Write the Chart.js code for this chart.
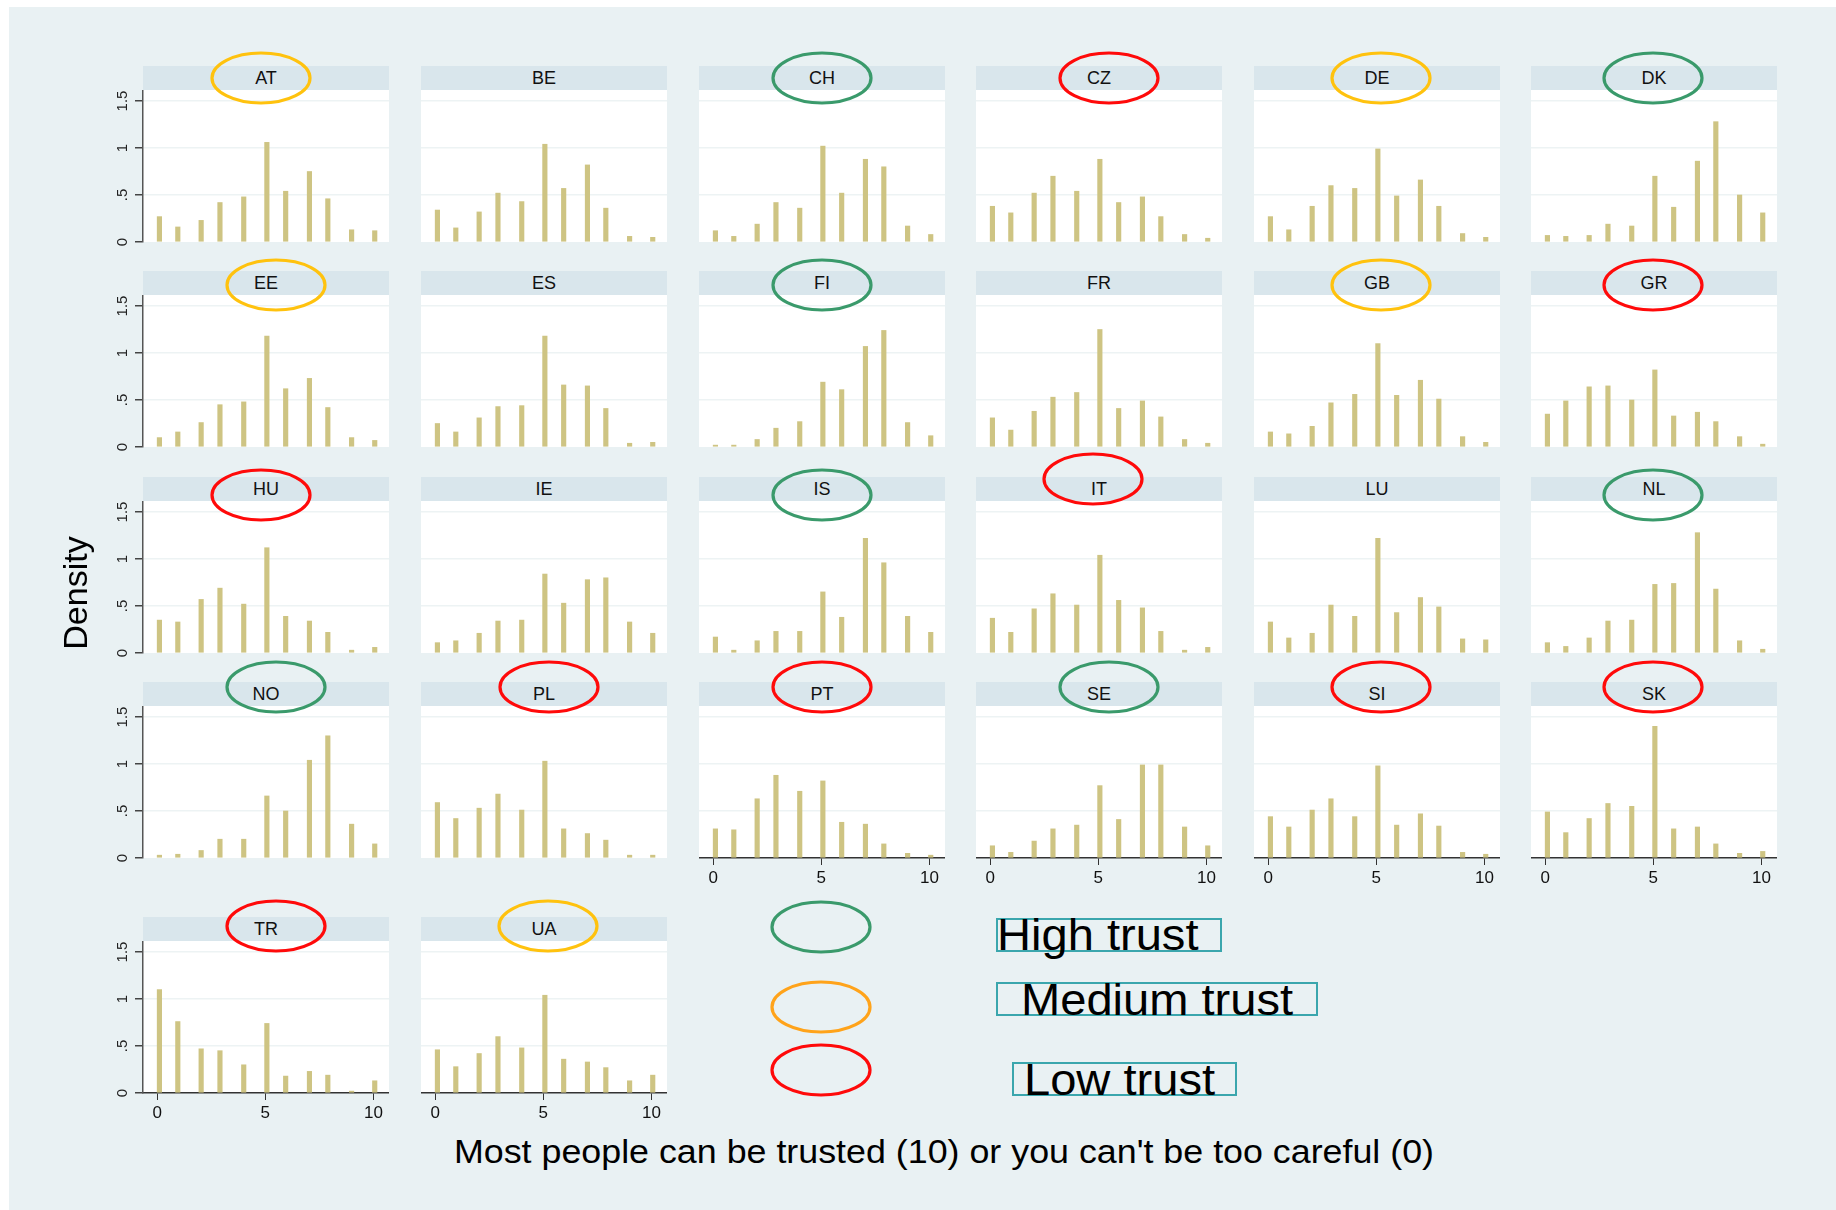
<!DOCTYPE html>
<html>
<head>
<meta charset="utf-8">
<script src="https://cdn.jsdelivr.net/npm/chart.js@4.4.1/dist/chart.umd.min.js"></script>
<style>
  body { margin: 0; width: 1836px; height: 1210px; overflow: hidden; background: #fff;
         font-family: "Liberation Sans", Arial, sans-serif; position: relative; }
  #frame { position: absolute; left: 9px; top: 7px; width: 1827px; height: 1203px; background: #e9f1f3; }
  .strip { position: absolute; height: 24px; background: #d9e6ec; color: #111;
           font-size: 18px; line-height: 24px; text-align: center; }
  .panel { position: absolute; }
  .txt { position: absolute; white-space: nowrap; color: #000; }
  .keybox { position: absolute; border: 2px solid #3aa6ad; box-sizing: border-box; }
  #rings { position: absolute; left: 0; top: 0; z-index: 5; pointer-events: none; }
</style>
</head>
<body>
<div id="frame"></div>
<canvas id="rings" width="1836" height="1210"></canvas>
<script>
// ---- data ----
const countries = ['AT', 'BE', 'CH', 'CZ', 'DE', 'DK',
                   'EE', 'ES', 'FI', 'FR', 'GB', 'GR',
                   'HU', 'IE', 'IS', 'IT', 'LU', 'NL',
                   'NO', 'PL', 'PT', 'SE', 'SI', 'SK',
                   'TR', 'UA'];

// histogram bin positions (answer 0..10)
const binX = [0.1, 0.95, 2.03, 2.9, 4.0, 5.07, 5.94, 7.04, 7.89, 8.99, 10.06];

const AT = [0.27, 0.16, 0.23, 0.42, 0.48, 1.06, 0.54, 0.75, 0.46, 0.13, 0.12];
const BE = [0.34, 0.15, 0.32, 0.52, 0.43, 1.04, 0.57, 0.82, 0.36, 0.06, 0.05];
const CH = [0.12, 0.06, 0.19, 0.42, 0.36, 1.02, 0.52, 0.88, 0.80, 0.17, 0.08];
const CZ = [0.38, 0.31, 0.52, 0.70, 0.54, 0.88, 0.42, 0.48, 0.27, 0.08, 0.04];
const DE = [0.27, 0.13, 0.38, 0.60, 0.57, 0.99, 0.49, 0.66, 0.38, 0.09, 0.05];
const DK = [0.07, 0.06, 0.07, 0.19, 0.17, 0.70, 0.37, 0.86, 1.28, 0.50, 0.31];
const EE = [0.10, 0.16, 0.26, 0.45, 0.48, 1.18, 0.62, 0.73, 0.42, 0.10, 0.07];
const ES = [0.25, 0.16, 0.31, 0.43, 0.44, 1.18, 0.66, 0.65, 0.41, 0.04, 0.05];
const FI = [0.02, 0.02, 0.08, 0.20, 0.27, 0.69, 0.61, 1.07, 1.24, 0.26, 0.12];
const FR = [0.31, 0.18, 0.38, 0.53, 0.58, 1.25, 0.41, 0.49, 0.32, 0.08, 0.04];
const GB = [0.16, 0.14, 0.22, 0.47, 0.56, 1.10, 0.55, 0.71, 0.51, 0.11, 0.05];
const GR = [0.35, 0.49, 0.64, 0.65, 0.50, 0.82, 0.33, 0.37, 0.27, 0.11, 0.03];
const HU = [0.35, 0.33, 0.57, 0.69, 0.52, 1.12, 0.39, 0.34, 0.22, 0.03, 0.06];
const IE = [0.11, 0.13, 0.21, 0.34, 0.35, 0.84, 0.53, 0.78, 0.80, 0.33, 0.21];
const IS = [0.17, 0.03, 0.13, 0.23, 0.23, 0.65, 0.38, 1.22, 0.96, 0.39, 0.22];
const IT = [0.37, 0.22, 0.47, 0.63, 0.51, 1.04, 0.56, 0.48, 0.23, 0.03, 0.06];
const LU = [0.33, 0.16, 0.21, 0.51, 0.39, 1.22, 0.43, 0.59, 0.49, 0.15, 0.14];
const NL = [0.11, 0.07, 0.16, 0.34, 0.35, 0.73, 0.74, 1.28, 0.68, 0.13, 0.04];
const NO = [0.03, 0.04, 0.08, 0.20, 0.20, 0.66, 0.50, 1.04, 1.30, 0.36, 0.15];
const PL = [0.59, 0.42, 0.53, 0.68, 0.51, 1.03, 0.31, 0.26, 0.19, 0.03, 0.03];
const PT = [0.31, 0.30, 0.63, 0.88, 0.71, 0.82, 0.38, 0.36, 0.15, 0.05, 0.03];
const SE = [0.13, 0.06, 0.18, 0.31, 0.35, 0.77, 0.41, 0.99, 0.99, 0.33, 0.13];
const SI = [0.44, 0.33, 0.51, 0.63, 0.44, 0.98, 0.35, 0.47, 0.34, 0.06, 0.04];
const SK = [0.49, 0.27, 0.42, 0.58, 0.55, 1.40, 0.31, 0.33, 0.15, 0.05, 0.07];
const TR = [1.10, 0.76, 0.47, 0.45, 0.30, 0.74, 0.18, 0.23, 0.19, 0.02, 0.13];
const UA = [0.46, 0.28, 0.42, 0.60, 0.48, 1.04, 0.36, 0.33, 0.27, 0.13, 0.19];

const series = [AT, BE, CH, CZ, DE, DK, EE, ES, FI, FR, GB, GR, HU,
                IE, IS, IT, LU, NL, NO, PL, PT, SE, SI, SK, TR, UA];

const highTrust = ['CH', 'DK', 'FI', 'IS', 'NL', 'NO', 'SE'];
const mediumTrust = ['AT', 'DE', 'EE', 'GB', 'UA'];
const lowTrust = ['CZ', 'GR', 'HU', 'IT', 'PL', 'PT', 'SI', 'SK', 'TR'];

const xTicks = [0, 5, 10];
const yTicks = [0, 0.5, 1, 1.5];
const yTickLabels = ['0', '.5', '1', '1.5'];

const xTitle = "Most people can be trusted (10) or you can't be too careful (0)";
const yTitle = 'Density';
const legendLabels = ['High trust', 'Medium trust', 'Low trust'];

// ---- layout ----
const colLeft = [143, 421, 699, 976, 1254, 1531];
const rowTop = [66, 271, 477, 682, 917];
const plotW = 246, plotH = 152, stripH = 24;
const xMin = -0.66, xMax = 10.72, yMax = 1.617;
const barColor = '#cec483';
const ringColor = { high: '#3a9a6b', medium: '#ffc20e', low: '#ff0a0a' };
// hand-drawn rings are not exactly centred on the strips
const ringNudge = { AT: [-5, 0], CH: [0, 0], CZ: [10, 0], DE: [4, 0], DK: [-1, 0],
  EE: [10, 2], FI: [0, 2], GB: [4, 2], GR: [-1, 2],
  HU: [-5, 6], IS: [0, 6], IT: [-6, -10], NL: [-1, 6],
  NO: [10, -7], PL: [5, -7], PT: [0, -7], SE: [10, -7], SI: [4, -7], SK: [-1, -7],
  TR: [10, -3], UA: [4, -3] };

Chart.defaults.font.family = '"Liberation Sans", Arial, sans-serif';

const plotBg = {
  id: 'plotBg',
  beforeDraw(chart) {
    const { ctx, chartArea: a } = chart;
    ctx.save();
    ctx.fillStyle = '#fff';
    ctx.fillRect(a.left, a.top, a.right - a.left, a.bottom - a.top);
    ctx.restore();
  }
};

const rings = document.getElementById('rings').getContext('2d');

function drawRing(cx, cy, color) {
  rings.beginPath();
  rings.ellipse(cx, cy, 49, 25, 0, 0, Math.PI * 2);
  rings.strokeStyle = color;
  rings.lineWidth = 3.2;
  rings.stroke();
}

function groupOf(code) {
  if (highTrust.includes(code)) return 'high';
  if (mediumTrust.includes(code)) return 'medium';
  if (lowTrust.includes(code)) return 'low';
  return null;
}

function makePanel(i) {
  const code = countries[i];
  const row = Math.floor(i / 6), col = i % 6;
  const firstCol = col === 0;
  const withX = i + 6 >= countries.length;
  const left = colLeft[col], top = rowTop[row];

  const strip = document.createElement('div');
  strip.className = 'strip';
  strip.style.left = left + 'px';
  strip.style.top = top + 'px';
  strip.style.width = plotW + 'px';
  strip.textContent = code;
  document.body.appendChild(strip);

  const padL = firstCol ? 50 : 0;
  const padB = withX ? 40 : 14;
  const cv = document.createElement('canvas');
  cv.className = 'panel';
  cv.width = plotW + padL;
  cv.height = plotH + padB;
  cv.style.left = (left - padL) + 'px';
  cv.style.top = (top + stripH) + 'px';
  document.body.appendChild(cv);

  new Chart(cv, {
    type: 'bar',
    data: {
      datasets: [{
        data: binX.map((x, k) => ({ x, y: series[i][k] })),
        backgroundColor: barColor,
        barThickness: 4.5
      }]
    },
    options: {
      responsive: false,
      animation: false,
      devicePixelRatio: 1,
      layout: { padding: { bottom: withX ? 0 : padB } },
      plugins: { legend: { display: false }, tooltip: { enabled: false } },
      scales: {
        x: {
          type: 'linear', min: xMin, max: xMax, offset: false, display: withX,
          afterBuildTicks: s => { s.ticks = xTicks.map(v => ({ value: v })); },
          afterFit: s => { s.height = withX ? padB : 0; s.paddingLeft = 0; s.paddingRight = 0; },
          grid: { drawOnChartArea: false, offset: false, tickLength: 7, tickColor: '#333' },
          border: { color: '#333', width: 1.5 },
          ticks: { font: { size: 17 }, color: '#111', padding: 3, maxRotation: 0, autoSkip: false }
        },
        y: {
          min: 0, max: yMax,
          afterBuildTicks: s => { s.ticks = yTicks.map(v => ({ value: v })); },
          afterFit: s => { s.width = padL; s.paddingTop = 0; s.paddingBottom = 0; },
          grid: {
            color: c => (c.tick && c.tick.value === 0) ? 'rgba(0,0,0,0)' : '#edf3f4',
            lineWidth: 1.5, drawTicks: firstCol, tickLength: 8, tickColor: '#444'
          },
          border: { display: firstCol, color: '#555', width: 1.5 },
          ticks: {
            display: firstCol, autoSkip: false,
            callback: v => yTickLabels[yTicks.indexOf(v)],
            minRotation: 90, maxRotation: 90, crossAlign: 'center', padding: 2,
            font: { size: 15 }, color: '#222'
          }
        }
      }
    },
    plugins: [plotBg]
  });

  const g = groupOf(code);
  if (g) {
    const n = ringNudge[code] || [0, 0];
    drawRing(left + plotW / 2 + n[0], top + stripH / 2 + n[1], ringColor[g]);
  }
}

countries.forEach((c, i) => makePanel(i));

// text placed by its baseline
function placeText(str, x, baseline, size, align, stretch) {
  const d = document.createElement('div');
  d.className = 'txt';
  d.textContent = str;
  d.style.fontSize = size + 'px';
  d.style.lineHeight = size + 'px';
  d.style.top = (baseline - 0.8465 * size) + 'px';
  d.style.left = x + 'px';
  if (align === 'center') {
    d.style.transform = 'translateX(-50%) scaleX(' + stretch + ')';
  } else {
    d.style.transformOrigin = '0 0';
    d.style.transform = 'scaleX(' + stretch + ')';
  }
  document.body.appendChild(d);
  return d;
}

placeText(xTitle, 944, 1163, 33, 'center', 1.085);

const yt = document.createElement('div');
yt.className = 'txt';
yt.textContent = yTitle;
yt.style.fontSize = '34px';
yt.style.lineHeight = '34px';
yt.style.left = '75px';
yt.style.top = '593px';
yt.style.transform = 'translate(-50%, -50%) rotate(-90deg)';
document.body.appendChild(yt);

// legend: rings + boxed labels
const keyRings = [[821, 927, '#3a9a6b'], [821, 1007, '#ffa31a'], [821, 1070, '#ff0a0a']];
const keyBoxes = [[996, 918, 226, 34], [996, 982, 322, 34], [1012, 1062, 225, 34]];
const keyText = [[997, 950], [1021, 1015], [1024, 1095]];
keyRings.forEach(r => drawRing(r[0], r[1], r[2]));
keyBoxes.forEach((b, k) => {
  const d = document.createElement('div');
  d.className = 'keybox';
  d.style.left = b[0] + 'px';
  d.style.top = b[1] + 'px';
  d.style.width = b[2] + 'px';
  d.style.height = b[3] + 'px';
  document.body.appendChild(d);
  placeText(legendLabels[k], keyText[k][0], keyText[k][1], 44, 'left', 1.07);
});
</script>
</body>
</html>
